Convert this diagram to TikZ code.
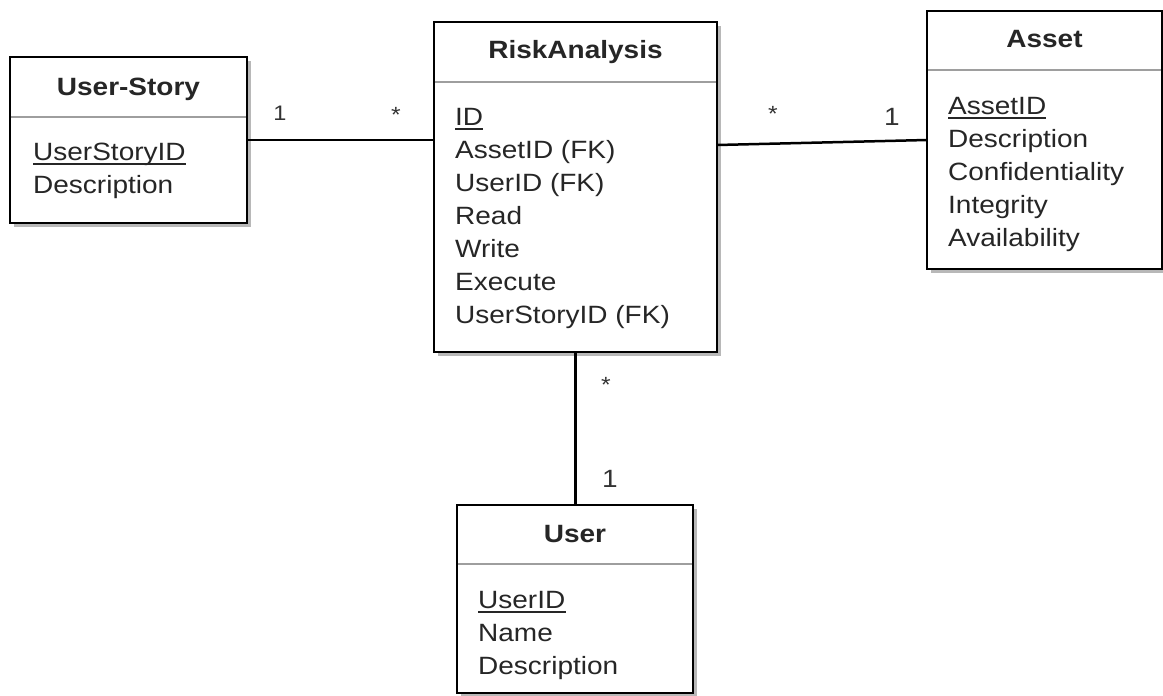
\documentclass[tikz,border=0pt]{standalone}
\usepackage{fontspec}
\setmainfont{Liberation Sans}[FakeStretch=1.12]
\usetikzlibrary{shadows,calc}
\begin{document}
\begin{tikzpicture}[x=1pt,y=-1pt,
  classbox/.style={draw=black, line width=2pt, fill=white, outer sep=0pt, inner sep=0pt,
    drop shadow={shadow xshift=4pt, shadow yshift=-4pt, fill=black!28, opacity=1}},
  ctitle/.style={anchor=base, inner sep=0pt, text=black!85, font=\fontsize{25}{30}\selectfont\bfseries},
  attr/.style={anchor=base west, inner sep=0pt, text=black!85, font=\fontsize{25}{30}\selectfont},
  divider/.style={draw=black!38, line width=1.5pt},
  keyline/.style={draw=black!85, line width=1.6pt},
  link/.style={draw=black, line width=2.5pt},
  mult/.style={anchor=base, inner sep=0pt, text=black!80, font=\fontsize{#1}{30}\selectfont},
  mult/.default=24]

\useasboundingbox (0,0) rectangle (1163,696);

% ---------- connectors (drawn first, boxes cover the ends) ----------
\coordinate (raL) at (434,140);
\coordinate (raR) at (717,145);
\coordinate (asL) at (927,140);

% ---------- class boxes ----------
\node[classbox, minimum width=237pt, minimum height=166pt] (us) at (128.5,140) {};
\node[classbox, minimum width=283pt, minimum height=330pt] (ra) at (575.5,187) {};
\node[classbox, minimum width=235pt, minimum height=258pt] (as) at (1044.5,140) {};
\node[classbox, minimum width=236pt, minimum height=188pt] (usr) at (575,599) {};

\draw[link] (us.east) -- (us.east -| ra.west);
\draw[link] ($(ra.north east)+(0,123)$) -- ($(as.north west)+(0,129)$);
\draw[link] (ra.south) -- (ra.south |- usr.north);

% ---------- dividers ----------
\draw[divider] ($(us.north west)+(1,60)$) -- ($(us.north east)+(-1,60)$);
\draw[divider] ($(ra.north west)+(1,60)$) -- ($(ra.north east)+(-1,60)$);
\draw[divider] ($(as.north west)+(1,59)$) -- ($(as.north east)+(-1,59)$);
\draw[divider] ($(usr.north west)+(1,59)$) -- ($(usr.north east)+(-1,59)$);

% ---------- User-Story ----------
\node[ctitle] (us-t) at (128.5,95) {User-Story};
\node[attr] (us-a1) at (33,160) {UserStoryID};
\node[attr] (us-a2) at (33,193) {Description};
\draw[keyline] ($(us-a1.base west)+(0,4)$) -- ($(us-a1.base east)+(0,4)$);

% ---------- RiskAnalysis ----------
\node[ctitle] (ra-t) at (575.5,58) {RiskAnalysis};
\foreach \txt [count=\i] in {ID, AssetID (FK), UserID (FK), Read, Write, Execute, UserStoryID (FK)}
  \node[attr] (ra-a\i) at (455,{125+33*(\i-1)}) {\txt};
\draw[keyline] ($(ra-a1.base west)+(0,4)$) -- ($(ra-a1.base east)+(0,4)$);

% ---------- Asset ----------
\node[ctitle] (as-t) at (1044.5,47) {Asset};
\foreach \txt [count=\i] in {AssetID, Description, Confidentiality, Integrity, Availability}
  \node[attr] (as-a\i) at (948,{114+33*(\i-1)}) {\txt};
\draw[keyline] ($(as-a1.base west)+(0,4)$) -- ($(as-a1.base east)+(0,4)$);

% ---------- User ----------
\node[ctitle] (usr-t) at (575,542) {User};
\foreach \txt [count=\i] in {UserID, Name, Description}
  \node[attr] (usr-a\i) at (478,{608+33*(\i-1)}) {\txt};
\draw[keyline] ($(usr-a1.base west)+(0,4)$) -- ($(usr-a1.base east)+(0,4)$);

% ---------- multiplicities ----------
\node[mult=21] (m-us) at (280,120) {1};
\node[mult=22] (m-ra1) at (396,122.5) {*};
\node[mult=22] (m-ra2) at (773,121.5) {*};
\node[mult=25] (m-as) at (892,125) {1};
\node[mult=22] (m-ra3) at (606,392.5) {*};
\node[mult=25] (m-usr) at (610,487) {1};
\end{tikzpicture}
\end{document}
